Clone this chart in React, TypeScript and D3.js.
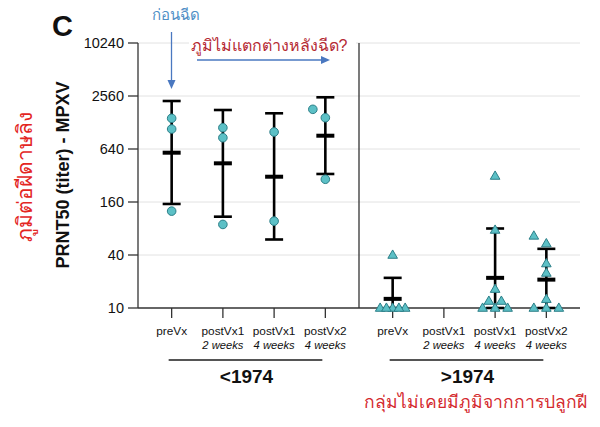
import React from 'react';
import * as d3 from 'd3';

const tickValues = [10, 40, 160, 640, 2560, 10240];
const groups = ['<1974', '>1974'];
const timepoints = ['preVx', 'postVx1', 'postVx1', 'postVx2'];
const timepointSubs = ['', '2 weeks', '4 weeks', '4 weeks'];

const oldValues: number[][] = [
  [126, 1079, 1428],
  [89, 860, 1117],
  [97, 998],
  [290, 1450, 1807],
];
const oldMean = [581, 440, 310, 906];
const oldLow = [152, 109, 60, 333];
const oldHigh = [2246, 1775, 1629, 2474];

const youngValues: number[][] = [
  [10, 10, 10, 10, 10, 40],
  [],
  [10, 10, 10, 12, 12, 16.4, 77, 316],
  [10, 10, 10, 12.6, 25, 32, 54, 66],
];
const youngMean: (number | null)[] = [12.7, null, 22, 21];
const youngLow: (number | null)[] = [10, null, 10, 10];
const youngHigh: (number | null)[] = [22, null, 80, 47];

const W = 600;
const H = 427;
const top = 43;
const bottom = 308;
const left = 138;
const right = 580;

const y = d3.scaleLog().base(2).domain([10, 10240]).range([bottom, top]);
const gx = d3.scaleBand<string>().domain(groups).range([left, right]).paddingInner(0).paddingOuter(0);
const px = d3.scalePoint<string>().domain(['0', '1', '2', '3']).range([0, gx.bandwidth()]).padding(0.657);

const fill = '#5cc0c6';
const stroke = '#2c7f88';
const font = '"Liberation Sans", Arial, sans-serif';

function swarm(vals: number[], step: number) {
  const placed: { x: number; y: number }[] = [];
  const cands = [0, -1, 1, -0.5, 0.5, -1.5, 1.5, -2, 2];
  for (const v of vals) {
    const yy = y(v);
    let off = 0;
    for (const c of cands) {
      const dx = c * step;
      const hit = placed.some(p => Math.abs(p.x - dx) < 6 && Math.abs(p.y - yy) < 8.6);
      if (!hit) { off = dx; break; }
    }
    placed.push({ x: off, y: yy });
  }
  return placed;
}

const tri = d3.symbol().type(d3.symbolTriangle).size(40)();

function ErrBar({ cx, m, lo, hi }: { cx: number; m: number; lo: number; hi: number }) {
  const hw = 9;
  return (
    <g stroke="#000">
      <line x1={cx} x2={cx} y1={y(hi)} y2={y(lo)} strokeWidth={2.6} />
      <line x1={cx - hw} x2={cx + hw} y1={y(hi)} y2={y(hi)} strokeWidth={2.6} />
      <line x1={cx - hw} x2={cx + hw} y1={y(lo)} y2={y(lo)} strokeWidth={2.6} />
      <line x1={cx - hw} x2={cx + hw} y1={y(m)} y2={y(m)} strokeWidth={4} />
    </g>
  );
}

export default function App() {
  const panels = [
    { g: groups[0], vals: oldValues, mean: oldMean, lo: oldLow, hi: oldHigh, shape: 'circle' },
    { g: groups[1], vals: youngValues, mean: youngMean, lo: youngLow, hi: youngHigh, shape: 'tri' },
  ];
  return (
    <svg width={W} height={H} style={{ position: 'absolute', left: 0, top: 0, background: '#fff' }} fontFamily={font}>
      <rect width={W} height={H} fill="#fff" />
      {tickValues.slice(1).map(t => (
        <line key={t} x1={left} x2={right} y1={y(t)} y2={y(t)} stroke="#e2e2e2" strokeWidth={1} />
      ))}
      <line x1={left} x2={left} y1={top} y2={bottom} stroke="#333" strokeWidth={1.3} />
      {tickValues.map(t => (
        <g key={t}>
          <line x1={left - 10} x2={left} y1={y(t)} y2={y(t)} stroke="#333" strokeWidth={1.3} />
          <text x={left - 14} y={y(t)} dy="0.36em" textAnchor="end" fontSize={14.5} fill="#111">{t}</text>
        </g>
      ))}
      <line x1={left} x2={right} y1={bottom} y2={bottom} stroke="#333" strokeWidth={1.3} />
      <line x1={gx(groups[1])!} x2={gx(groups[1])!} y1={top} y2={bottom} stroke="#333" strokeWidth={1.3} />
      {panels.map(p => {
        const x0 = gx(p.g)!;
        return (
          <g key={p.g}>
            {timepoints.map((tp, i) => {
              const cx = x0 + px(String(i))!;
              return (
                <g key={i}>
                  <line x1={cx} x2={cx} y1={bottom} y2={bottom + 10} stroke="#333" strokeWidth={1.3} />
                  <text x={cx} y={bottom + 27} textAnchor="middle" fontSize={11.8} fill="#111">{tp}</text>
                  {timepointSubs[i] && (
                    <text x={cx} y={bottom + 41} textAnchor="middle" fontSize={11.2} fontStyle="italic" fill="#111">{timepointSubs[i]}</text>
                  )}
                </g>
              );
            })}
            <line x1={x0 + px('0')! - 3} x2={x0 + px('3')! - 3} y1={360} y2={360} stroke="#555" strokeWidth={2} />
            <text x={x0 + (px('0')! + px('3')!) / 2 - 2} y={383} textAnchor="middle" fontSize={19} fontWeight="bold" fill="#111">{p.g}</text>
            {timepoints.map((_, i) => {
              const cx = x0 + px(String(i))!;
              const m = p.mean[i];
              if (m == null) return null;
              return <ErrBar key={'e' + i} cx={cx} m={m} lo={p.lo[i] as number} hi={p.hi[i] as number} />;
            })}
            {p.vals.map((vs, i) => {
              const cx = x0 + px(String(i))!;
              const pts = swarm(vs, 12.5);
              return pts.map((pt, j) =>
                p.shape === 'circle' ? (
                  <circle key={i + '-' + j} cx={cx + pt.x} cy={pt.y} r={4.3} fill={fill} stroke={stroke} strokeWidth={1} />
                ) : (
                  <path key={i + '-' + j} d={tri!} transform={`translate(${cx + pt.x},${pt.y + 0.5})`} fill={fill} stroke={stroke} strokeWidth={1} />
                )
              );
            })}
          </g>
        );
      })}
      <text x={52} y={36} fontSize={29} fontWeight="bold" fill="#111">C</text>
      <text transform="translate(69,175) rotate(-90)" textAnchor="middle" fontSize={18} fontWeight="bold" fill="#111">PRNT50 (titer) - MPXV</text>
      <text transform="translate(32,177) rotate(-90)" textAnchor="middle" fontSize={21} fill="#e3261f">ภูมิต่อฝีดาษลิง</text>
      <text x={176} y={20} textAnchor="middle" fontSize={15} fill="#4f8fc6">ก่อนฉีด</text>
      <line x1={171.5} x2={171.5} y1={32} y2={81} stroke="#4a78c0" strokeWidth={1.3} />
      <path d="M167.5,80 L175.5,80 L171.5,89 Z" fill="#4a78c0" />
      <rect x={189} y={35} width={167} height={19} fill="#fff" />
      <text x={269} y={51} textAnchor="middle" fontSize={16} fill="#b52a33">ภูมิไม่แตกต่างหลังฉีด?</text>
      <line x1={197} x2={322} y1={60} y2={60} stroke="#4a78c0" strokeWidth={1.3} />
      <path d="M321,56 L321,64 L330,60 Z" fill="#4a78c0" />
      <text x={475} y={408} textAnchor="middle" fontSize={17.5} fill="#d42a2e">กลุ่มไม่เคยมีภูมิจากการปลูกฝี</text>
    </svg>
  );
}
